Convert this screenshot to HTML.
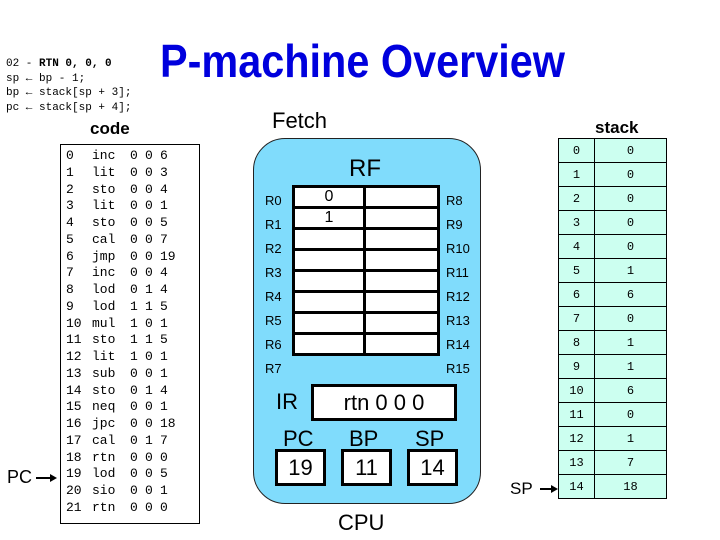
<!DOCTYPE html>
<html><head><meta charset="utf-8"><style>
body{margin:0;width:720px;height:540px;background:#fff;position:relative;overflow:hidden;font-family:"Liberation Sans",sans-serif}
.a{position:absolute;white-space:nowrap}
.m{font-family:"Liberation Mono",monospace}
.cl{position:absolute;left:66px;font-family:"Liberation Mono",monospace;font-size:13px;height:17px;line-height:17px}
.cl span{display:inline-block}
.cl span:nth-child(1){width:26px}.cl span:nth-child(2){width:38px}.cl span:nth-child(3){width:15px}.cl span:nth-child(4){width:15px}
table{border-collapse:collapse;position:absolute}
.st td{border:1px solid #000;height:23px;padding:0;text-align:center;font-family:"Liberation Mono",monospace;font-size:12px;background:#ccfff0}
.rf td{border:3px solid #000;height:18px;padding:0;background:#fff;text-align:center;font-size:16px}
.box{position:absolute;border:3px solid #000;background:#fff;text-align:center;box-sizing:border-box}
</style></head><body>
<div class="a m" style="left:6px;top:57px;font-size:11px;line-height:14.5px">02 - <b>RTN 0, 0, 0</b><br>sp &larr; bp - 1;<br>bp &larr; stack[sp + 3];<br>pc &larr; stack[sp + 4];</div>
<div class="a" style="left:160px;top:34px;font-size:46px;font-weight:bold;color:#0000dd;transform:scaleX(0.9);transform-origin:left">P-machine Overview</div>
<div class="a" style="left:90px;top:119px;font-size:17px;font-weight:bold">code</div>
<div class="a" style="left:272px;top:108px;font-size:22px">Fetch</div>
<div class="a" style="left:595px;top:118px;font-size:17px;font-weight:bold">stack</div>

<div style="position:absolute;left:60px;top:144px;width:138px;height:378px;border:1px solid #000"></div>
<div class="cl" style="top:147px"><span>0</span><span>inc</span><span>0</span><span>0</span><span>6</span></div>
<div class="cl" style="top:164px"><span>1</span><span>lit</span><span>0</span><span>0</span><span>3</span></div>
<div class="cl" style="top:181px"><span>2</span><span>sto</span><span>0</span><span>0</span><span>4</span></div>
<div class="cl" style="top:197px"><span>3</span><span>lit</span><span>0</span><span>0</span><span>1</span></div>
<div class="cl" style="top:214px"><span>4</span><span>sto</span><span>0</span><span>0</span><span>5</span></div>
<div class="cl" style="top:231px"><span>5</span><span>cal</span><span>0</span><span>0</span><span>7</span></div>
<div class="cl" style="top:248px"><span>6</span><span>jmp</span><span>0</span><span>0</span><span>19</span></div>
<div class="cl" style="top:264px"><span>7</span><span>inc</span><span>0</span><span>0</span><span>4</span></div>
<div class="cl" style="top:281px"><span>8</span><span>lod</span><span>0</span><span>1</span><span>4</span></div>
<div class="cl" style="top:298px"><span>9</span><span>lod</span><span>1</span><span>1</span><span>5</span></div>
<div class="cl" style="top:315px"><span>10</span><span>mul</span><span>1</span><span>0</span><span>1</span></div>
<div class="cl" style="top:331px"><span>11</span><span>sto</span><span>1</span><span>1</span><span>5</span></div>
<div class="cl" style="top:348px"><span>12</span><span>lit</span><span>1</span><span>0</span><span>1</span></div>
<div class="cl" style="top:365px"><span>13</span><span>sub</span><span>0</span><span>0</span><span>1</span></div>
<div class="cl" style="top:382px"><span>14</span><span>sto</span><span>0</span><span>1</span><span>4</span></div>
<div class="cl" style="top:398px"><span>15</span><span>neq</span><span>0</span><span>0</span><span>1</span></div>
<div class="cl" style="top:415px"><span>16</span><span>jpc</span><span>0</span><span>0</span><span>18</span></div>
<div class="cl" style="top:432px"><span>17</span><span>cal</span><span>0</span><span>1</span><span>7</span></div>
<div class="cl" style="top:449px"><span>18</span><span>rtn</span><span>0</span><span>0</span><span>0</span></div>
<div class="cl" style="top:465px"><span>19</span><span>lod</span><span>0</span><span>0</span><span>5</span></div>
<div class="cl" style="top:482px"><span>20</span><span>sio</span><span>0</span><span>0</span><span>1</span></div>
<div class="cl" style="top:499px"><span>21</span><span>rtn</span><span>0</span><span>0</span><span>0</span></div>

<div class="a" style="left:7px;top:467px;font-size:18px">PC</div>
<svg class="a" style="left:0;top:0" width="720" height="540"><line x1="36" y1="478" x2="52" y2="478" stroke="#000" stroke-width="2"/><polygon points="50,474 57,478 50,482" fill="#000"/>
<line x1="540" y1="489" x2="553" y2="489" stroke="#000" stroke-width="2"/><polygon points="551,485 558,489 551,493" fill="#000"/></svg>

<div style="position:absolute;left:253px;top:138px;width:226px;height:364px;background:#80dcfc;border:1px solid #222;border-radius:32px"></div>
<div class="a" style="left:349px;top:155px;font-size:24px">RF</div>
<table class="rf" style="left:292px;top:185px;width:148px">
<tr><td style="width:68px">0</td><td></td></tr><tr><td>1</td><td></td></tr><tr><td></td><td></td></tr><tr><td></td><td></td></tr><tr><td></td><td></td></tr><tr><td></td><td></td></tr><tr><td></td><td></td></tr><tr><td></td><td></td></tr></table>
<div class="a" style="left:265px;top:189px;font-size:13px;line-height:24px">R0<br>R1<br>R2<br>R3<br>R4<br>R5<br>R6<br>R7</div>
<div class="a" style="left:446px;top:189px;font-size:13px;line-height:24px">R8<br>R9<br>R10<br>R11<br>R12<br>R13<br>R14<br>R15</div>
<div class="a" style="left:276px;top:389px;font-size:22px">IR</div>
<div class="box" style="left:311px;top:384px;width:146px;height:37px;font-size:22px;line-height:31px">rtn 0 0 0</div>
<div class="a" style="left:283px;top:426px;font-size:22px">PC</div>
<div class="a" style="left:349px;top:426px;font-size:22px">BP</div>
<div class="a" style="left:415px;top:426px;font-size:22px">SP</div>
<div class="box" style="left:275px;top:449px;width:51px;height:37px;font-size:22px;line-height:31px">19</div>
<div class="box" style="left:341px;top:449px;width:51px;height:37px;font-size:22px;line-height:31px">11</div>
<div class="box" style="left:407px;top:449px;width:51px;height:37px;font-size:22px;line-height:31px">14</div>
<div class="a" style="left:338px;top:510px;font-size:22px">CPU</div>

<div class="a" style="left:510px;top:479px;font-size:17px">SP</div>
<table class="st" style="left:558px;top:138px;width:109px">
<tr><td style="width:35px">0</td><td>0</td></tr><tr><td>1</td><td>0</td></tr><tr><td>2</td><td>0</td></tr><tr><td>3</td><td>0</td></tr><tr><td>4</td><td>0</td></tr><tr><td>5</td><td>1</td></tr><tr><td>6</td><td>6</td></tr><tr><td>7</td><td>0</td></tr><tr><td>8</td><td>1</td></tr><tr><td>9</td><td>1</td></tr><tr><td>10</td><td>6</td></tr><tr><td>11</td><td>0</td></tr><tr><td>12</td><td>1</td></tr><tr><td>13</td><td>7</td></tr><tr><td>14</td><td>18</td></tr></table>
</body></html>
